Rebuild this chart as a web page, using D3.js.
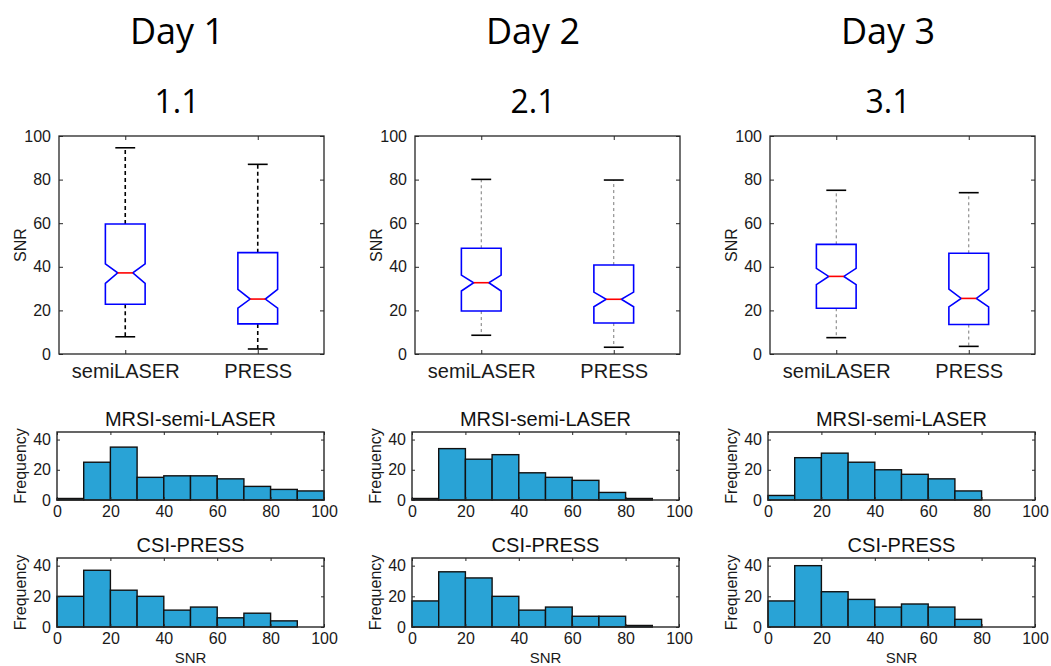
<!DOCTYPE html>
<html><head><meta charset="utf-8">
<script src="https://cdn.jsdelivr.net/npm/d3@7"></script>
<style>body{margin:0;background:#fff}svg{display:block}</style>
</head><body>
<svg id="chart" width="1051" height="666"></svg>
<script>
// ---------- data ----------
const days = ["Day 1", "Day 2", "Day 3"];
const sessions = ["1.1", "2.1", "3.1"];
const boxCategories = ["semiLASER", "PRESS"];
// box statistics, [day][category]
const whiskerLo = [[7.9, 2.3], [8.6, 3.1], [7.5, 3.5]];
const q1 = [[22.8, 13.8], [19.7, 14.2], [21.0, 13.5]];
const median = [[37.2, 25.2], [32.7, 25.1], [35.6, 25.5]];
const q3 = [[59.6, 46.5], [48.5, 40.8], [50.3, 46.2]];
const whiskerHi = [[94.6, 87.0], [80.1, 79.8], [75.1, 74.0]];
const notchLo = [[32.4, 21.0], [28.9, 21.7], [31.8, 21.6]];
const notchHi = [[41.3, 29.7], [36.2, 28.4], [39.3, 29.8]];
const boxYTicks = [0, 20, 40, 60, 80, 100];
// histograms
const binEdges = [0, 10, 20, 30, 40, 50, 60, 70, 80, 90, 100];
const semiLaserCounts = [
  [1, 25, 35, 15, 16, 16, 14, 9, 7, 6],
  [1, 34, 27, 30, 18, 15, 13, 5, 1, 0],
  [3, 28, 31, 25, 20, 17, 14, 6, 0, 0]
];
const pressCounts = [
  [20, 37, 24, 20, 11, 13, 6, 9, 4, 0],
  [17, 36, 32, 20, 11, 13, 7, 7, 1, 0],
  [17, 40, 23, 18, 13, 15, 13, 5, 0, 0]
];
const histTitles = ["MRSI-semi-LASER", "CSI-PRESS"];
const histXTicks = [0, 20, 40, 60, 80, 100];
const histYTicks = [0, 20, 40];

// ---------- layout ----------
const svg = d3.select("#chart");
const tickFont = "'Liberation Sans', Arial, sans-serif";
const titleFont = "'Open Sans', sans-serif";
const axisColor = "#262626";
const boxLeft = [59, 415, 770], boxW = 265, boxTop = 136, boxBottom = 354;
const histLeft = [57, 412, 768], histW = 267;
const histRows = [{top: 432, bottom: 500}, {top: 558, bottom: 627}];
const barColor = "#29a3d6";

days.forEach((day, d) => {
  const g = svg.append("g");
  const cx = boxLeft[d] + 118;
  g.append("text").attr("x", cx).attr("y", 44).attr("text-anchor", "middle")
    .attr("font-family", titleFont).attr("font-size", 36).attr("fill", "#000").text(day);
  g.append("text").attr("x", cx).attr("y", 113).attr("text-anchor", "middle")
    .attr("font-family", titleFont).attr("font-size", 32).attr("fill", "#000").text(sessions[d]);

  // ---- boxplot ----
  const x = d3.scaleLinear().domain([0.5, 2.5]).range([boxLeft[d], boxLeft[d] + boxW]);
  const y = d3.scaleLinear().domain([0, 100]).range([boxBottom, boxTop]);
  const bp = g.append("g");
  bp.append("rect").attr("x", x(0.5)).attr("y", y(100)).attr("width", x(2.5) - x(0.5))
    .attr("height", y(0) - y(100)).attr("fill", "none").attr("stroke", axisColor).attr("stroke-width", 1.3);
  const yl = d3.axisLeft(y).tickValues(boxYTicks).tickSize(-4).tickPadding(8);
  const yr = d3.axisRight(y).tickValues(boxYTicks).tickSize(-4).tickFormat("");
  const catPos = [1, 2];
  const xb = d3.axisBottom(x).tickValues(catPos).tickSize(-4).tickPadding(10).tickFormat((v, i) => boxCategories[i]);
  const xt = d3.axisTop(x).tickValues(catPos).tickSize(-4).tickFormat("");
  const styleAxis = (sel, fs) => {
    sel.select(".domain").remove();
    sel.selectAll("line").attr("stroke", axisColor);
    sel.selectAll("text").attr("font-family", tickFont).attr("font-size", fs).attr("fill", "#1a1a1a");
  };
  bp.append("g").attr("transform", `translate(${x(0.5)},0)`).call(yl).call(s => styleAxis(s, 16));
  bp.append("g").attr("transform", `translate(${x(2.5)},0)`).call(yr).call(s => styleAxis(s, 16));
  bp.append("g").attr("transform", `translate(0,${y(0)})`).call(xb).call(s => styleAxis(s, 20));
  bp.append("g").attr("transform", `translate(0,${y(100)})`).call(xt).call(s => styleAxis(s, 16));
  bp.append("text").attr("transform", `translate(${boxLeft[d] - 33},${(boxTop + boxBottom) / 2}) rotate(-90)`)
    .attr("text-anchor", "middle").attr("font-family", tickFont).attr("font-size", 16).attr("fill", "#1a1a1a").text("SNR");

  const bw = x(1.15) - x(0.85), cw = x(1.075) - x(0.925), inset = bw * 0.31;
  const wStroke = d === 0 ? "#000" : "#7a7a7a";
  const wWidth = d === 0 ? 1.6 : 1;
  const wDash = d === 0 ? "4,3" : "3,3";
  boxCategories.forEach((c, i) => {
    const px = x(catPos[i]);
    bp.append("line").attr("x1", px).attr("x2", px).attr("y1", y(q3[d][i])).attr("y2", y(whiskerHi[d][i]))
      .attr("stroke", wStroke).attr("stroke-width", wWidth).attr("stroke-dasharray", wDash);
    bp.append("line").attr("x1", px).attr("x2", px).attr("y1", y(q1[d][i])).attr("y2", y(whiskerLo[d][i]))
      .attr("stroke", wStroke).attr("stroke-width", wWidth).attr("stroke-dasharray", wDash);
    [whiskerHi[d][i], whiskerLo[d][i]].forEach(v => {
      bp.append("line").attr("x1", px - cw / 2).attr("x2", px + cw / 2).attr("y1", y(v)).attr("y2", y(v))
        .attr("stroke", "#000").attr("stroke-width", 1.6);
    });
    const L = px - bw / 2, R = px + bw / 2;
    const pts = [[L, y(q1[d][i])], [L, y(notchLo[d][i])], [L + inset, y(median[d][i])], [L, y(notchHi[d][i])],
      [L, y(q3[d][i])], [R, y(q3[d][i])], [R, y(notchHi[d][i])], [R - inset, y(median[d][i])],
      [R, y(notchLo[d][i])], [R, y(q1[d][i])]];
    bp.append("path").attr("d", d3.line()(pts) + "Z").attr("fill", "none")
      .attr("stroke", "#0000ff").attr("stroke-width", 1.6);
    bp.append("line").attr("x1", L + inset).attr("x2", R - inset).attr("y1", y(median[d][i])).attr("y2", y(median[d][i]))
      .attr("stroke", "#ff0000").attr("stroke-width", 1.6);
  });

  // ---- histograms ----
  [semiLaserCounts, pressCounts].forEach((counts, r) => {
    const row = histRows[r];
    const hx = d3.scaleLinear().domain([0, 100]).range([histLeft[d], histLeft[d] + histW]);
    const hy = d3.scaleLinear().domain([0, 45]).range([row.bottom, row.top]);
    const hg = g.append("g");
    hg.selectAll("rect.bar").data(counts[d]).join("rect").attr("class", "bar")
      .attr("x", (v, k) => hx(binEdges[k])).attr("width", (v, k) => hx(binEdges[k + 1]) - hx(binEdges[k]))
      .attr("y", v => hy(v)).attr("height", v => hy(0) - hy(v))
      .attr("fill", barColor).attr("stroke", "#111").attr("stroke-width", 1.4)
      .attr("display", v => v > 0 ? null : "none");
    hg.append("rect").attr("x", hx(0)).attr("y", hy(45)).attr("width", hx(100) - hx(0)).attr("height", hy(0) - hy(45))
      .attr("fill", "none").attr("stroke", axisColor).attr("stroke-width", 1.4);
    hg.append("g").attr("transform", `translate(0,${hy(0)})`)
      .call(d3.axisBottom(hx).tickValues(histXTicks).tickSize(-3).tickPadding(6)).call(s => styleAxis(s, 16));
    hg.append("g").attr("transform", `translate(0,${hy(45)})`)
      .call(d3.axisTop(hx).tickValues(histXTicks).tickSize(-3).tickFormat("")).call(s => styleAxis(s, 16));
    hg.append("g").attr("transform", `translate(${hx(0)},0)`)
      .call(d3.axisLeft(hy).tickValues(histYTicks).tickSize(-3).tickPadding(6)).call(s => styleAxis(s, 16));
    hg.append("g").attr("transform", `translate(${hx(100)},0)`)
      .call(d3.axisRight(hy).tickValues(histYTicks).tickSize(-3).tickFormat("")).call(s => styleAxis(s, 16));
    hg.append("text").attr("x", (hx(0) + hx(100)) / 2).attr("y", row.top - 6).attr("text-anchor", "middle")
      .attr("font-family", tickFont).attr("font-size", 20).attr("fill", "#111").text(histTitles[r]);
    hg.append("text").attr("transform", `translate(${histLeft[d] - 31},${(row.top + row.bottom) / 2}) rotate(-90)`)
      .attr("text-anchor", "middle").attr("font-family", tickFont).attr("font-size", 16).attr("fill", "#1a1a1a").text("Frequency");
    if (r === 1) {
      hg.append("text").attr("x", (hx(0) + hx(100)) / 2).attr("y", 663).attr("text-anchor", "middle")
        .attr("font-family", tickFont).attr("font-size", 15).attr("fill", "#1a1a1a").text("SNR");
    }
  });
});
</script>
</body></html>
